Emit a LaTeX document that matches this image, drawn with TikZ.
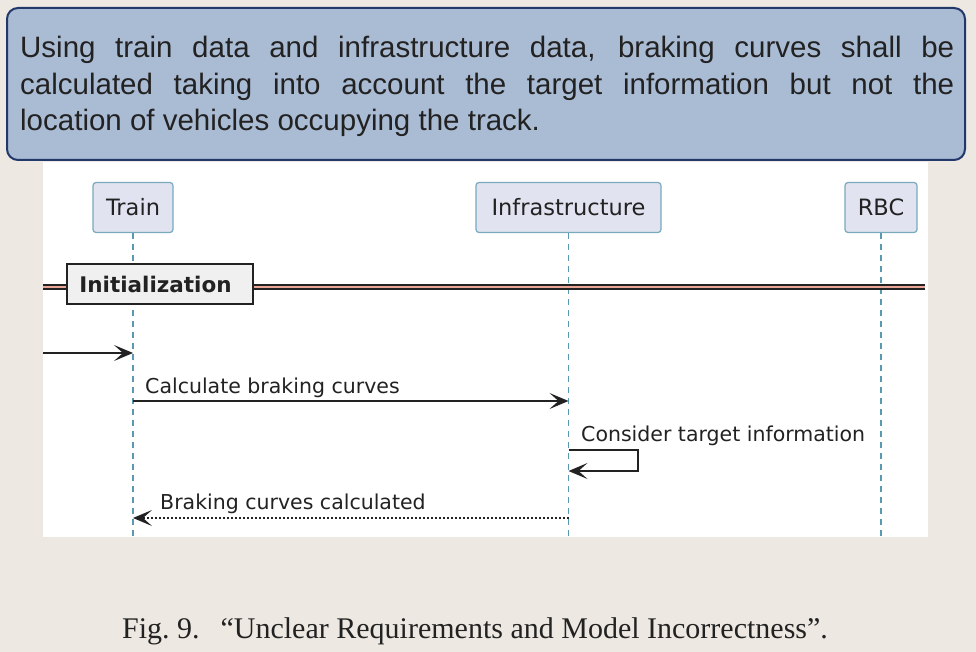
\documentclass[tikz,border=0pt]{standalone}
\usepackage{fontspec}
\setmainfont{Liberation Serif}
\newfontfamily\notefont{Liberation Sans}
\newfontfamily\umlfont{DejaVu Sans}
\usetikzlibrary{arrows.meta}
\definecolor{paper}{HTML}{EDE9E2}
\definecolor{notefill}{HTML}{AABBD4}
\definecolor{noteline}{HTML}{22386A}
\definecolor{lifecol}{HTML}{5A9AB0}
\definecolor{partfill}{HTML}{E2E3F0}
\definecolor{partline}{HTML}{78AABB}
\definecolor{sepfill}{HTML}{E9A595}
\definecolor{ink}{HTML}{222222}

\begin{document}
\begin{tikzpicture}[x=1pt, y=-1pt,
    part/.style={draw=partline, fill=partfill, line width=1.2pt, rounded corners=3pt,
      font=\umlfont\fontsize{22.5}{26}\selectfont, text=ink, minimum height=50pt, inner sep=0pt},
    life/.style={draw=lifecol, line width=1.1pt, dash pattern=on 6pt off 5pt},
    msg/.style={draw=ink, line width=1.5pt, -{Stealth[length=19pt, width=16pt, inset=9pt]}},
    lbl/.style={font=\umlfont\fontsize{20.5}{24}\selectfont, text=ink, anchor=base west, inner sep=0pt},
    noteline/.style={font=\notefont\fontsize{29.5}{36}\selectfont, text=ink, anchor=base west, inner sep=0pt}]
  \useasboundingbox[fill=paper] (0,0) rectangle (976,652);
  % sequence diagram area
  \fill[white] (43,162) rectangle (928,537);
  % participants and lifelines
  \foreach \id/\x/\w/\name in {train/133/80/Train, infra/568.5/185/Infrastructure, rbc/881/72/RBC} {
    \node[part, minimum width=\w pt] (\id) at (\x,207.5) {\name};
    \coordinate (\id-end) at (\x,537);
    \draw[life] (\id.south) -- (\id-end);
  }
  % divider
  \coordinate (div-l) at (43,287);
  \coordinate (div-r) at (925,287);
  \draw[ink, line width=1.3pt, double=sepfill, double distance=2.6pt] (div-l) -- (div-r);
  \node[draw=ink, line width=2pt, fill=black!6, minimum width=186pt, minimum height=40pt, inner sep=0pt,
    font=\umlfont\bfseries\fontsize{21.5}{24}\selectfont, text=ink] (init) at (160,284)
    {Initialization\hspace*{9pt}};
  % messages
  \coordinate (found) at (43,353);
  \draw[msg] (found) -- (found -| train);
  \coordinate (row-calc) at (0,401);
  \draw[msg] (row-calc -| train) -- (row-calc -| infra);
  \node[lbl] (calc-lbl) at (145,393) {Calculate braking curves};
  \coordinate (self-a) at (568.5,450);
  \coordinate (self-b) at (638,471);
  \draw[msg] (self-a) -| (self-b) -- (self-b -| infra);
  \node[lbl] (self-lbl) at (581,441) {Consider target information};
  \coordinate (row-ret) at (0,518);
  \draw[msg, dash pattern=on 2pt off 2pt] (row-ret -| infra) -- (row-ret -| train);
  \node[lbl] (ret-lbl) at (160,509) {Braking curves calculated};
  % requirement note
  \node[draw=noteline, fill=notefill, line width=2pt, rounded corners=11pt, minimum width=958pt,
    minimum height=152pt, inner sep=0pt] (note) at (486,84) {};
  \node[noteline] (note-1) at (20,58)
    {\makebox[934pt][s]{Using train data and infrastructure data, braking curves shall be}};
  \node[noteline] (note-2) at (20,94.5)
    {\makebox[934pt][s]{calculated taking into account the target information but not the}};
  \node[noteline] (note-3) at (20,131) {location of vehicles occupying the track.};
  % caption
  \node[font=\fontsize{30}{36}\selectfont, text=ink, anchor=base, inner sep=0pt] (caption) at (475,638)
    {Fig.~9.\hskip0.7em“Unclear Requirements and Model Incorrectness”.};
\end{tikzpicture}
\end{document}
